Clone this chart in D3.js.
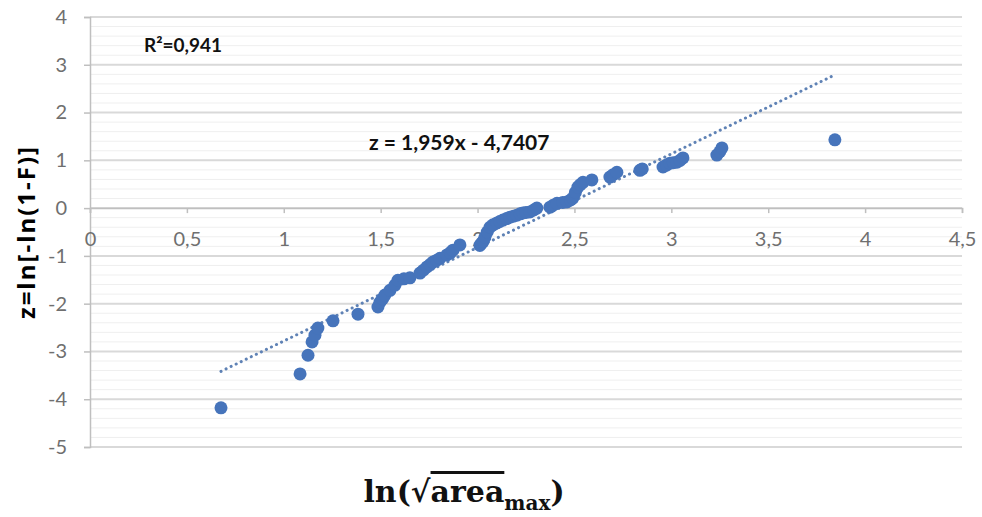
<!DOCTYPE html>
<meta charset="utf-8">
<title>z vs ln(sqrt(area max))</title>
<style>
body { margin:0; background:#fff; }
svg { display:block; font-family:'Lato','Open Sans',sans-serif; }
.tick text { fill:#6f6f6f; font-size:20px; font-family:'Lato','Open Sans',sans-serif; }
.grid-major { stroke:#d9d9d9; stroke-width:2; }
.grid-minor { stroke:#efefef; stroke-width:1; }
.axis path, .axis line { stroke:#bfbfbf; stroke-width:1.5; }
</style>
<svg width="982" height="517"></svg>
<script src="https://d3js.org/d3.v7.min.js"></script>
<script>
// ln(sqrt(area_max)) values
var xs = [0.676, 1.084, 1.125, 1.146, 1.161, 1.176, 1.254, 1.383, 1.486, 1.496,
  1.51, 1.522, 1.548, 1.574, 1.589, 1.62, 1.651, 1.703, 1.72, 1.739, 1.755, 1.770,
  1.79, 1.806, 1.842, 1.86, 1.873, 1.909, 2.012, 2.02, 2.028, 2.038, 2.05, 2.064,
  2.08, 2.100, 2.115, 2.131, 2.15, 2.167, 2.185, 2.203, 2.22, 2.234, 2.25, 2.270,
  2.29, 2.306, 2.374, 2.39, 2.410, 2.44, 2.461, 2.48, 2.492, 2.505, 2.518, 2.53,
  2.544, 2.590, 2.683, 2.70, 2.719, 2.838, 2.85, 2.957, 2.975, 2.993, 3.01, 3.029,
  3.045, 3.060, 3.235, 3.25, 3.261, 3.844];
// z = ln[-ln(1-F)]
var zs = [-4.18, -3.47, -3.08, -2.80, -2.66, -2.51, -2.36, -2.22, -2.07, -1.97,
  -1.90, -1.82, -1.72, -1.61, -1.51, -1.48, -1.46, -1.36, -1.30, -1.23, -1.18, -1.13,
  -1.09, -1.05, -0.98, -0.93, -0.88, -0.77, -0.78, -0.74, -0.70, -0.61, -0.50, -0.40,
  -0.35, -0.31, -0.28, -0.25, -0.22, -0.19, -0.17, -0.15, -0.12, -0.10, -0.09, -0.08,
  -0.04, 0.0, 0.02, 0.06, 0.10, 0.12, 0.13, 0.17, 0.21, 0.33, 0.44, 0.49,
  0.54, 0.59, 0.65, 0.70, 0.75, 0.79, 0.82, 0.86, 0.90, 0.94, 0.95, 0.96,
  1.00, 1.05, 1.11, 1.18, 1.26, 1.43];

var slope = 1.959, intercept = -4.7407;
var xTicks = [0, 0.5, 1, 1.5, 2, 2.5, 3, 3.5, 4, 4.5];
var yTicks = [-5, -4, -3, -2, -1, 0, 1, 2, 3, 4];
var fmt = function(d) { return String(d).replace(".", ","); };

var svg = d3.select("svg");
var x = d3.scaleLinear().domain([0, 4.5]).range([90, 962]);
var y = d3.scaleLinear().domain([-5, 4]).range([447, 17]);

// minor gridlines
var minor = d3.range(-5, 4.001, 0.2).filter(function(v) { return Math.abs(v - Math.round(v)) > 0.01; });
svg.append("g").selectAll("line").data(minor).enter().append("line")
  .attr("class", "grid-minor")
  .attr("x1", x(0)).attr("x2", x(4.5))
  .attr("y1", function(d) { return y(d); }).attr("y2", function(d) { return y(d); });

svg.append("g").selectAll("line").data(yTicks).enter().append("line")
  .attr("class", "grid-major")
  .attr("x1", x(0)).attr("x2", x(4.5))
  .attr("y1", function(d) { return y(d); }).attr("y2", function(d) { return y(d); });

// y axis
svg.append("g").attr("class", "axis")
  .attr("transform", "translate(" + x(0) + ",0)")
  .call(d3.axisLeft(y).tickValues(yTicks).tickFormat(fmt).tickSize(6).tickPadding(17));

// x axis at z=0
svg.append("g").attr("class", "axis")
  .attr("transform", "translate(0," + y(0) + ")")
  .call(d3.axisBottom(x).tickValues(xTicks).tickFormat(fmt).tickSize(5).tickSizeOuter(5).tickPadding(19));

// trend line
var xmin = d3.min(xs), xmax = d3.max(xs);
svg.append("line")
  .attr("x1", x(xmin)).attr("y1", y(slope * xmin + intercept))
  .attr("x2", x(xmax)).attr("y2", y(slope * xmax + intercept))
  .attr("stroke", "#5f82b5").attr("stroke-width", 3)
  .attr("stroke-linecap", "round").attr("stroke-dasharray", "0.1,5.5");

// points
svg.append("g").selectAll("circle").data(xs).enter().append("circle")
  .attr("cx", function(d) { return x(d); })
  .attr("cy", function(d, i) { return y(zs[i]); })
  .attr("r", 6.5)
  .attr("fill", "#4674bb");

// annotations
svg.append("text").attr("x", 144).attr("y", 52)
  .attr("font-size", 19).attr("font-weight", "bold").attr("fill", "#111")
  .text("R²=0,941");
svg.append("text").attr("x", 369).attr("y", 150)
  .attr("font-size", 21).attr("font-weight", "bold").attr("fill", "#111")
  .text("z = 1,959x - 4,7407");

// axis titles
svg.append("text")
  .attr("transform", "translate(35,232) rotate(-90)")
  .attr("text-anchor", "middle")
  .attr("font-family", "'Open Sans',sans-serif")
  .attr("font-size", 24).attr("font-weight", "bold").attr("fill", "#000")
  .attr("letter-spacing", 2)
  .text("z=ln[-ln(1-F)]");

var xt = svg.append("text")
  .attr("x", 464).attr("y", 502)
  .attr("text-anchor", "middle")
  .attr("font-family", "'DejaVu Serif','Liberation Serif',serif")
  .attr("font-size", 30).attr("font-weight", "bold").attr("fill", "#111");
xt.append("tspan").text("ln(√");
xt.append("tspan").style("text-decoration", "overline").text("area");
xt.append("tspan").attr("font-size", 20).attr("dy", 8).text("max");
xt.append("tspan").attr("dy", -8).text(")");
</script>
